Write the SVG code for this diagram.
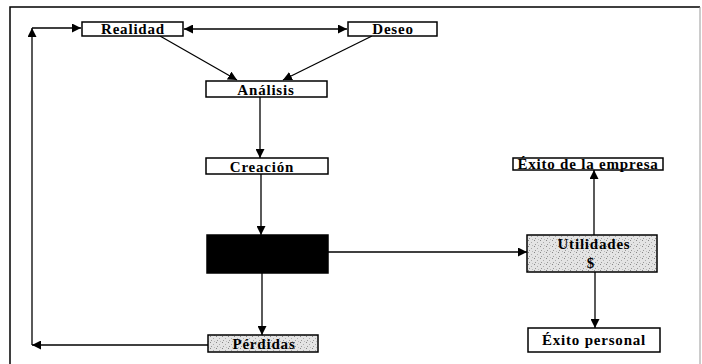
<svg xmlns="http://www.w3.org/2000/svg" width="702" height="364" viewBox="0 0 702 364">
<defs>
<style>
.box{fill:#fff;stroke:#000;stroke-width:1.5}
.tex{fill:url(#dots);stroke:#000;stroke-width:1.5}
.t{font-family:"Liberation Serif",serif;font-weight:bold;font-size:15px;letter-spacing:0.8px;text-anchor:middle;fill:#000}
.c{fill:none;stroke:#000;stroke-width:1.3}
</style>
<pattern id="dots" width="6" height="6" patternUnits="userSpaceOnUse">
<rect width="6" height="6" fill="#e4e4e4"/>
<rect x="0" y="0" width="1" height="1" fill="#888"/>
<rect x="3" y="2" width="1" height="1" fill="#aaa"/>
<rect x="1" y="4" width="1" height="1" fill="#999"/>
<rect x="4" y="5" width="1" height="1" fill="#bbb"/>
</pattern>
<marker id="ah" viewBox="0 0 10 10" refX="10" refY="5" markerWidth="9" markerHeight="9" markerUnits="userSpaceOnUse" orient="auto-start-reverse">
<path d="M0,0 L10,5 L0,10 z" fill="#000"/>
</marker>
</defs>
<g id="frame">
<path d="M10,364 V7 H700" fill="none" stroke="#000" stroke-width="1.5"/>
<path d="M700,7 V364" fill="none" stroke="#999" stroke-width="1"/>
</g>
<g id="connectors">
<path class="c" d="M208,345 H32" marker-end="url(#ah)"/>
<path class="c" d="M32,345 V28" marker-end="url(#ah)"/>
<path class="c" d="M32,28 H81" marker-end="url(#ah)"/>
<path class="c" d="M184,29 H347" marker-start="url(#ah)" marker-end="url(#ah)"/>
<path class="c" d="M160,36 L237,80" marker-end="url(#ah)"/>
<path class="c" d="M372,36 L283,80" marker-end="url(#ah)"/>
<path class="c" d="M260,97 V158" marker-end="url(#ah)"/>
<path class="c" d="M261,174 V235" marker-end="url(#ah)"/>
<path class="c" d="M328,252 H527" marker-end="url(#ah)"/>
<path class="c" d="M262,273 V335" marker-end="url(#ah)"/>
<path class="c" d="M594,235 V170" marker-end="url(#ah)"/>
<path class="c" d="M595,272 V328" marker-end="url(#ah)"/>
</g>
<g id="realidad"><rect class="box" x="82" y="22" width="101" height="14"/><text class="t" x="133" y="34">Realidad</text></g>
<g id="deseo"><rect class="box" x="348" y="22" width="89" height="14"/><text class="t" x="393" y="34">Deseo</text></g>
<g id="analisis"><rect class="box" x="206" y="81" width="121" height="16"/><text class="t" x="266" y="95">Análisis</text></g>
<g id="creacion"><rect class="box" x="206" y="158" width="122" height="16"/><text class="t" x="262" y="172">Creación</text></g>
<g id="negro"><rect x="207" y="235" width="121" height="38" fill="#000" stroke="#000" stroke-width="1.5"/></g>
<g id="utilidades"><rect class="tex" x="527" y="235" width="130" height="37"/><text class="t" x="594" y="249">Utilidades</text><text class="t" x="591" y="268">$</text></g>
<g id="perdidas"><rect class="tex" x="208" y="335" width="110" height="17"/><text class="t" x="264" y="349">Pérdidas</text></g>
<g id="exito-empresa"><rect class="box" x="513" y="158" width="150" height="12"/><text class="t" x="588" y="169">Éxito de la empresa</text></g>
<g id="exito-personal"><rect class="box" x="528" y="328" width="132" height="24"/><text class="t" x="594" y="345">Éxito personal</text></g>
</svg>
